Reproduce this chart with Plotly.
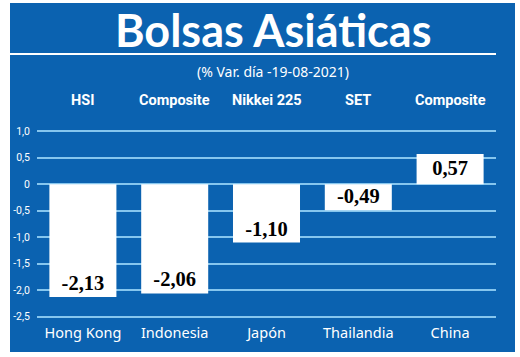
import plotly.graph_objects as go

countries = ["Hong Kong", "Indonesia", "Japón", "Thailandia", "China"]
indices = ["HSI", "Composite", "Nikkei 225", "SET", "Composite"]
values = [-2.13, -2.06, -1.10, -0.49, 0.57]
value_labels = ["-2,13", "-2,06", "-1,10", "-0,49", "0,57"]
ytick_vals = [1.0, 0.5, 0, -0.5, -1.0, -1.5, -2.0, -2.5]
ytick_text = ["1,0", "0,5", "0", "-0,5", "-1,0", "-1,5", "-2,0", "-2,5"]
title_text = "Bolsas Asiáticas"
subtitle_text = "(% Var. día -19-08-2021)"

BLUE = "#0b62b0"
GRID = "#86c6ee"

W, H = 520, 357
ML, MR, MT, MB = 37, 24, 126, 35
PW = W - ML - MR
PH = H - MT - MB

def px_x(x):
    return (x - ML) / PW

def px_y(y):
    return (H - MB - y) / PH

fig = go.Figure()
fig.add_trace(go.Bar(
    x=countries, y=values,
    marker=dict(color="white", line=dict(width=0)),
    width=0.73,
    text=value_labels,
    textposition="inside",
    insidetextanchor="end",
    constraintext="none",
    textfont=dict(family="Liberation Serif, Times New Roman, serif", size=20.5, color="black", weight="bold"),
    cliponaxis=False,
    hoverinfo="skip",
))

shapes = [
    dict(type="rect", xref="paper", yref="paper", layer="below",
         x0=px_x(10), x1=px_x(515), y0=px_y(352), y1=px_y(3),
         fillcolor=BLUE, line=dict(width=0)),
    dict(type="line", xref="paper", yref="paper", layer="above",
         x0=px_x(10), x1=px_x(496), y0=px_y(54), y1=px_y(54),
         line=dict(color="white", width=2)),
]

annotations = [
    dict(text=title_text, xref="paper", yref="paper", x=px_x(273), y=px_y(30),
         xanchor="center", yanchor="middle", showarrow=False,
         font=dict(family="Lato, sans-serif", size=45, color="white", weight="bold")),
    dict(text=subtitle_text, xref="paper", yref="paper", x=px_x(273), y=px_y(71),
         xanchor="center", yanchor="middle", showarrow=False,
         font=dict(family="Noto Sans, sans-serif", size=14, color="white")),
]
for c, idx in zip(countries, indices):
    annotations.append(dict(text=idx, xref="x", yref="paper", x=c, y=px_y(101),
                            xanchor="center", yanchor="middle", showarrow=False,
                            font=dict(family="Roboto, sans-serif",
                                      size=14.5, color="white", weight="bold")))

fig.update_layout(
    width=W, height=H,
    margin=dict(l=ML, r=MR, t=MT, b=MB),
    paper_bgcolor="white",
    plot_bgcolor="rgba(0,0,0,0)",
    showlegend=False,
    bargap=0.27,
    shapes=shapes,
    annotations=annotations,
    xaxis=dict(showgrid=False, zeroline=False, showline=False, ticks="",
               range=[-0.5, 4.5],
               tickfont=dict(family="Noto Sans, sans-serif", size=14.5, color="white")),
    yaxis=dict(range=[-2.6, 1.1], tickvals=ytick_vals, ticktext=ytick_text,
               showgrid=True, gridcolor=GRID, gridwidth=1.5,
               zeroline=False, showline=False, ticks="", ticklabelstandoff=6,
               tickfont=dict(family="Roboto, sans-serif", size=10.5, color="white")),
)

fig.write_html("out.html", config={"displayModeBar": False},
               post_script="document.body.style.margin='0';")
